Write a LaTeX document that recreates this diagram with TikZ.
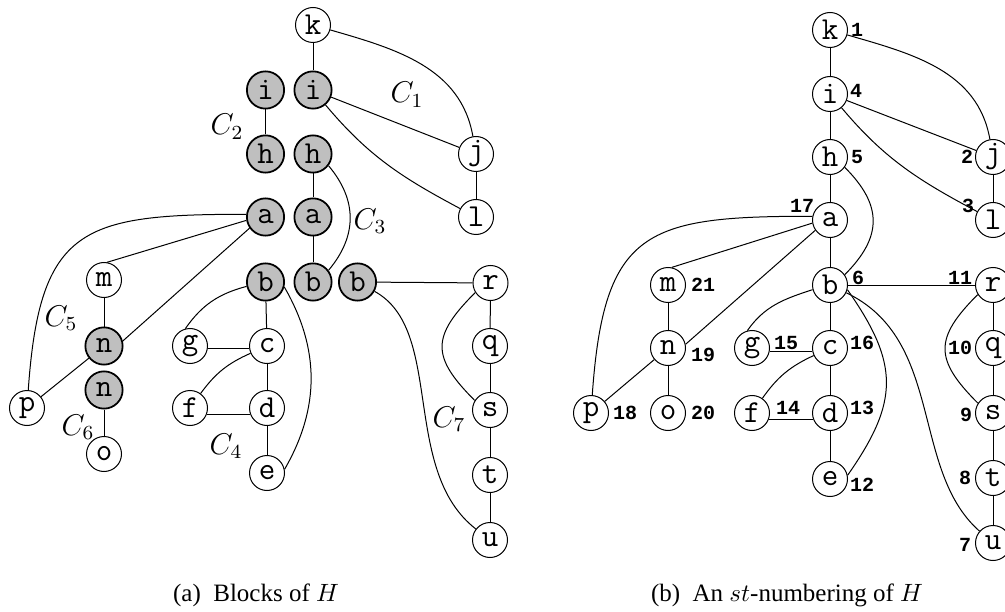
\documentclass[tikz,border=0pt]{standalone}
\usepackage{fontspec}
\setmainfont{Liberation Serif}
\newfontfamily\nmfont{Liberation Mono}
\newcommand{\vxfont}{\ttfamily\addfontfeatures{FakeStretch=1.5}}
\begin{document}
\begin{tikzpicture}[x=0.4pt,y=-0.4pt,
  vx/.style={circle, draw, line width=0.4pt, inner sep=0pt, minimum size=14pt,
    font=\fontsize{12.8}{12.8}\vxfont\selectfont},
  gvx/.style={vx, fill=black!25, line width=0.7pt, minimum size=14.9pt},
  num/.style={inner sep=0pt, font=\nmfont\bfseries\fontsize{8}{8}\selectfont},
  blk/.style={inner sep=0pt, font=\fontsize{12}{12}\selectfont},
  captext/.style={inner sep=0pt, font=\fontsize{10}{12}\selectfont},
  ed/.style={line width=0.4pt}]
\useasboundingbox (0,0) rectangle (1005,612);

% ---------------- (a) blocks ----------------
\node[vx]  (Ak)  at (313,25)    {k};
\node[gvx] (Ai)  at (313,90)    {i};
\node[gvx] (AiL) at (265.5,90)  {i};
\node[gvx] (AhL) at (265.5,154) {h};
\node[gvx] (Ah)  at (313,154)   {h};
\node[gvx] (AaL) at (265.5,217) {a};
\node[gvx] (Aa)  at (313,217)   {a};
\node[gvx] (AbL) at (265.5,282) {b};
\node[gvx] (Ab)  at (313,282)   {b};
\node[gvx] (AbR) at (357.5,282) {b};
\node[vx]  (Aj)  at (476,154)   {j};
\node[vx]  (Al)  at (476,217)   {l};
\node[vx]  (Ar)  at (490.5,283) {r};
\node[vx]  (Aq)  at (490,346)   {q};
\node[vx]  (As)  at (490,410)   {s};
\node[vx]  (At)  at (490,475)   {t};
\node[vx]  (Au)  at (490,540)   {u};
\node[vx]  (Am)  at (104,280)   {m};
\node[gvx] (An)  at (104,346)   {n};
\node[gvx] (AnL) at (104,390)   {n};
\node[vx]  (Ao)  at (104,454)   {o};
\node[vx]  (Ap)  at (27,408)    {p};
\node[vx]  (Ag)  at (190,346)   {g};
\node[vx]  (Ac)  at (267,346)   {c};
\node[vx]  (Af)  at (190,408)   {f};
\node[vx]  (Ad)  at (267,408)   {d};
\node[vx]  (Ae)  at (267,473)   {e};

\node[blk] (C1) at (407,95)  {$C_1$};
\node[blk] (C2) at (227,127) {$C_2$};
\node[blk] (C3) at (370,221) {$C_3$};
\node[blk] (C4) at (226,446) {$C_4$};
\node[blk] (C5) at (61,318)  {$C_5$};
\node[blk] (C6) at (78,427)  {$C_6$};
\node[blk] (C7) at (449,419) {$C_7$};

\begin{scope}[ed]
% C1
\draw (Ak) -- (Ai);
\draw (Ak) to[out=-16,in=100] (Aj);
\draw (Ai) -- (Aj);
\draw (Ai) to[out=-50,in=152] (Al);
\draw (Aj) -- (Al);
% C2
\draw (AiL) -- (AhL);
% C3
\draw (Ah) -- (Aa);
\draw (Aa) -- (Ab);
\draw (Ah.-37) to[out=-50,in=50,looseness=1.1] (Ab.37);
% C4
\draw (AbL) -- (Ac);
\draw (AbL.193) to[out=195,in=55] (Ag.105);
\draw (Ag.-8) -- (Ac.188);
\draw (Ac) to[bend right=15] (Af);
\draw (Af.-20) -- (Ad.200);
\draw (Ac) -- (Ad);
\draw (Ad) -- (Ae);
\draw (AbL.-15) to[out=-60,in=60] (Ae.12);
% C5
\draw (AaL.190) -- (Am.80);
\draw (AaL.215) -- (An.15);
\draw (AaL.172) to[out=180,in=86,looseness=1.5] (Ap);
\draw (Am) -- (An);
\draw (An) -- (Ap);
% C6
\draw (AnL) -- (Ao);
% C7
\draw (AbR) -- (Ar);
\draw (AbR) .. controls (445,330) and (400,470) .. (Au);
\draw (Ar.212) to[out=225,in=135,looseness=1.47] (As.148);
\draw (Ar) -- (Aq);
\draw (Aq) -- (As);
\draw (As) -- (At);
\draw (At) -- (Au);
\end{scope}

\node[captext] (capA) at (256,595) {(a)\enskip Blocks of $H$};

% ---------------- (b) st-numbering ----------------
\node[vx] (Bk) at (830,30)  {k};
\node[vx] (Bi) at (830,94)  {i};
\node[vx] (Bh) at (830,157) {h};
\node[vx] (Ba) at (830,220) {a};
\node[vx] (Bb) at (830,285) {b};
\node[vx] (Bc) at (830,348) {c};
\node[vx] (Bd) at (830,413) {d};
\node[vx] (Be) at (830,479) {e};
\node[vx] (Bj) at (993,157) {j};
\node[vx] (Bl) at (993,220) {l};
\node[vx] (Br) at (993,285) {r};
\node[vx] (Bq) at (993,348) {q};
\node[vx] (Bs) at (993,413) {s};
\node[vx] (Bt) at (993,478) {t};
\node[vx] (Bu) at (993,543) {u};
\node[vx] (Bm) at (668,285) {m};
\node[vx] (Bn) at (668,348) {n};
\node[vx] (Bo) at (668,413) {o};
\node[vx] (Bp) at (591,413) {p};
\node[vx] (Bg) at (752,348) {g};
\node[vx] (Bf) at (752,413) {f};

\node[num] (N1)  at (857,30)  {1};
\node[num] (N2)  at (967,157) {2};
\node[num] (N3)  at (968,206) {3};
\node[num] (N4)  at (856,91)  {4};
\node[num] (N5)  at (857,157) {5};
\node[num] (N6)  at (858,278) {6};
\node[num] (N7)  at (965,545) {7};
\node[num] (N8)  at (965,478) {8};
\node[num] (N9)  at (966,415) {9};
\node[num] (N10) at (960,348) {10};
\node[num] (N11) at (960,278) {11};
\node[num] (N12) at (862,485) {12};
\node[num] (N13) at (862,408) {13};
\node[num] (N14) at (788,408) {14};
\node[num] (N15) at (786,343) {15};
\node[num] (N16) at (862,343) {16};
\node[num] (N17) at (802,206) {17};
\node[num] (N18) at (625,413) {18};
\node[num] (N19) at (703,355) {19};
\node[num] (N20) at (703,413) {20};
\node[num] (N21) at (703,285) {21};

\begin{scope}[ed]
\draw (Bk) -- (Bi);
\draw (Bk) to[out=-16,in=100] (Bj);
\draw (Bi) -- (Bj);
\draw (Bi) to[out=-50,in=152] (Bl);
\draw (Bj) -- (Bl);
\draw (Bi) -- (Bh);
\draw (Bh) -- (Ba);
\draw (Bh.-35) to[out=-45,in=45,looseness=1.28] (Bb.35);
\draw (Ba) -- (Bb);
\draw (Ba.190) -- (Bm.78);
\draw (Ba.215) -- (Bn.12);
\draw (Ba.168) to[out=180,in=86,looseness=1.5] (Bp);
\draw (Bm) -- (Bn);
\draw (Bn) -- (Bp);
\draw (Bn) -- (Bo);
\draw (Bb.195) to[out=198,in=55] (Bg.105);
\draw (Bb) -- (Bc);
\draw (Bg.-10) -- (Bc.190);
\draw (Bc) to[bend right=15] (Bf);
\draw (Bf.-20) -- (Bd.200);
\draw (Bc) -- (Bd);
\draw (Bd) -- (Be);
\draw (Bb.-15) to[out=-55,in=55,looseness=1.25] (Be.12);
\draw (Bb) -- (Br);
\draw (Bb) .. controls (945,340) and (910,470) .. (Bu);
\draw (Br) -- (Bq);
\draw (Br.212) to[out=225,in=135,looseness=1.46] (Bs.147);
\draw (Bq) -- (Bs);
\draw (Bs) -- (Bt);
\draw (Bt) -- (Bu);
\end{scope}

\node[captext] (capB) at (787,595) {(b)\enskip An $st$-numbering of $H$};
\end{tikzpicture}
\end{document}
